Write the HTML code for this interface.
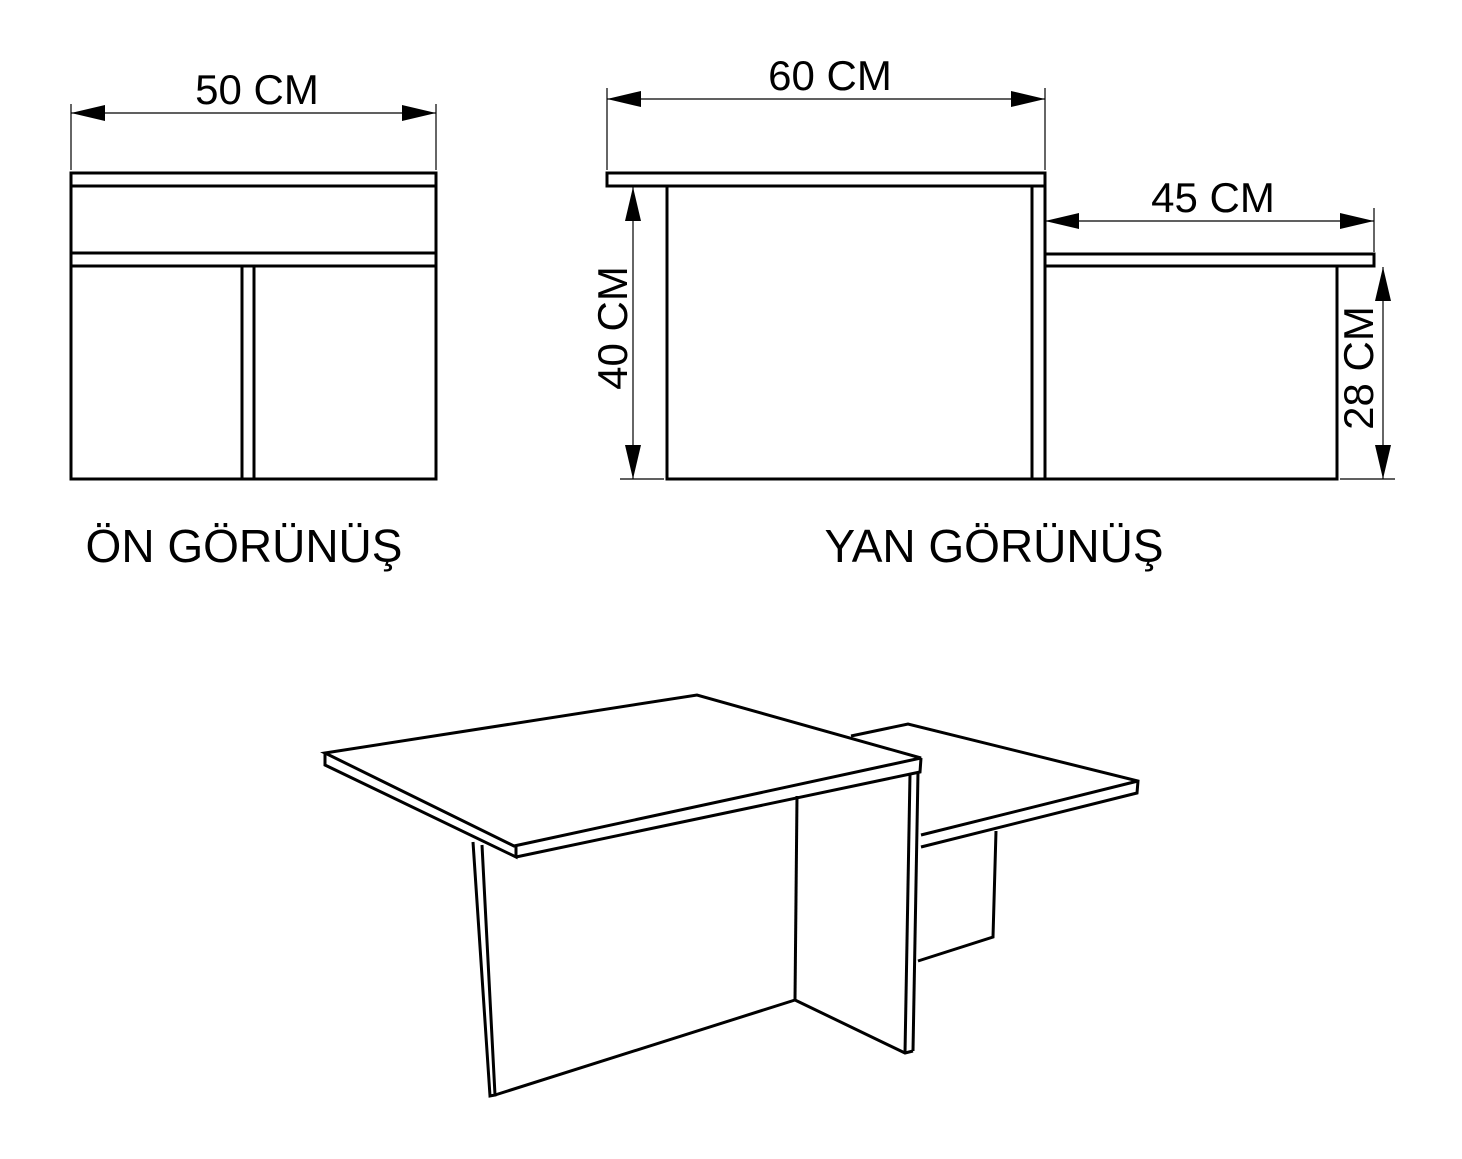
<!DOCTYPE html>
<html><head><meta charset="utf-8"><style>html,body{margin:0;padding:0;background:#fff}</style></head>
<body>
<svg width="1462" height="1154" viewBox="0 0 1462 1154" xmlns="http://www.w3.org/2000/svg" font-family="Liberation Sans, sans-serif">
<defs>
<marker id="ar" viewBox="0 0 34 20" refX="34" refY="10" markerWidth="34" markerHeight="20" markerUnits="userSpaceOnUse" orient="auto-start-reverse"><path d="M0,2 L34,10 L0,18 Z" fill="#000"/></marker>
</defs>
<g fill="none" stroke="#000" stroke-width="3">
<rect x="71" y="173" width="365" height="306"/>
<line x1="71" y1="186" x2="436" y2="186"/>
<line x1="71" y1="253" x2="436" y2="253"/>
<line x1="71" y1="266" x2="436" y2="266"/>
<line x1="242" y1="266" x2="242" y2="479"/>
<line x1="254" y1="266" x2="254" y2="479"/>
<rect x="607" y="173" width="438" height="13"/>
<polyline points="667,186 667,479 1045,479 1045,186"/>
<line x1="1032" y1="186" x2="1032" y2="479"/>
<rect x="1045" y="254" width="329" height="12"/>
<polyline points="1045,479 1337,479 1337,266"/>
<polygon points="325,753 697,695 921,758 514,846"/>
<polyline points="325,753 325,765 516,857 516,846"/>
<polyline points="516,857 920,772 921,758"/>
<polyline points="851,736 908,724 1138,781 1137,793 921,847"/>
<line x1="921" y1="835" x2="1138" y2="781"/>
<polyline points="473,842 490,1096 495,1095 482,845"/>
<line x1="495" y1="1095" x2="795" y2="1000"/>
<line x1="797" y1="796" x2="795" y2="1000"/>
<polyline points="795,1000 905,1053 913,1051"/>
<line x1="905" y1="1053" x2="910" y2="774"/>
<line x1="913" y1="1051" x2="918" y2="772"/>
<polyline points="996,831 993,937 918,961"/>
</g>
<g stroke="#000" stroke-width="1.2">
<line x1="71" y1="104" x2="71" y2="170"/><line x1="436" y1="104" x2="436" y2="170"/>
<line x1="607" y1="88" x2="607" y2="170"/><line x1="1045" y1="88" x2="1045" y2="170"/>
<line x1="1374" y1="208" x2="1374" y2="252"/>
<line x1="620" y1="479" x2="664" y2="479"/>
<line x1="1340" y1="479" x2="1395" y2="479"/>
<line x1="71" y1="113" x2="436" y2="113" marker-start="url(#ar)" marker-end="url(#ar)"/>
<line x1="607" y1="99" x2="1045" y2="99" marker-start="url(#ar)" marker-end="url(#ar)"/>
<line x1="1045" y1="221" x2="1374" y2="221" marker-start="url(#ar)" marker-end="url(#ar)"/>
<line x1="633" y1="187" x2="633" y2="479" marker-start="url(#ar)" marker-end="url(#ar)"/>
<line x1="1383" y1="267" x2="1383" y2="479" marker-start="url(#ar)" marker-end="url(#ar)"/>
</g>
<g fill="#000">
<text x="257" y="104" font-size="42" text-anchor="middle">50 CM</text>
<text x="830" y="90" font-size="42" text-anchor="middle">60 CM</text>
<text x="1213" y="212" font-size="42" text-anchor="middle">45 CM</text>
<text transform="translate(627,328) rotate(-90)" font-size="42" text-anchor="middle">40 CM</text>
<text transform="translate(1373,368) rotate(-90)" font-size="42" text-anchor="middle">28 CM</text>
<text x="244" y="562" font-size="46" text-anchor="middle">ÖN GÖRÜNÜŞ</text>
<text x="994" y="562" font-size="46" text-anchor="middle">YAN GÖRÜNÜŞ</text>
</g>
</svg>
</body></html>
